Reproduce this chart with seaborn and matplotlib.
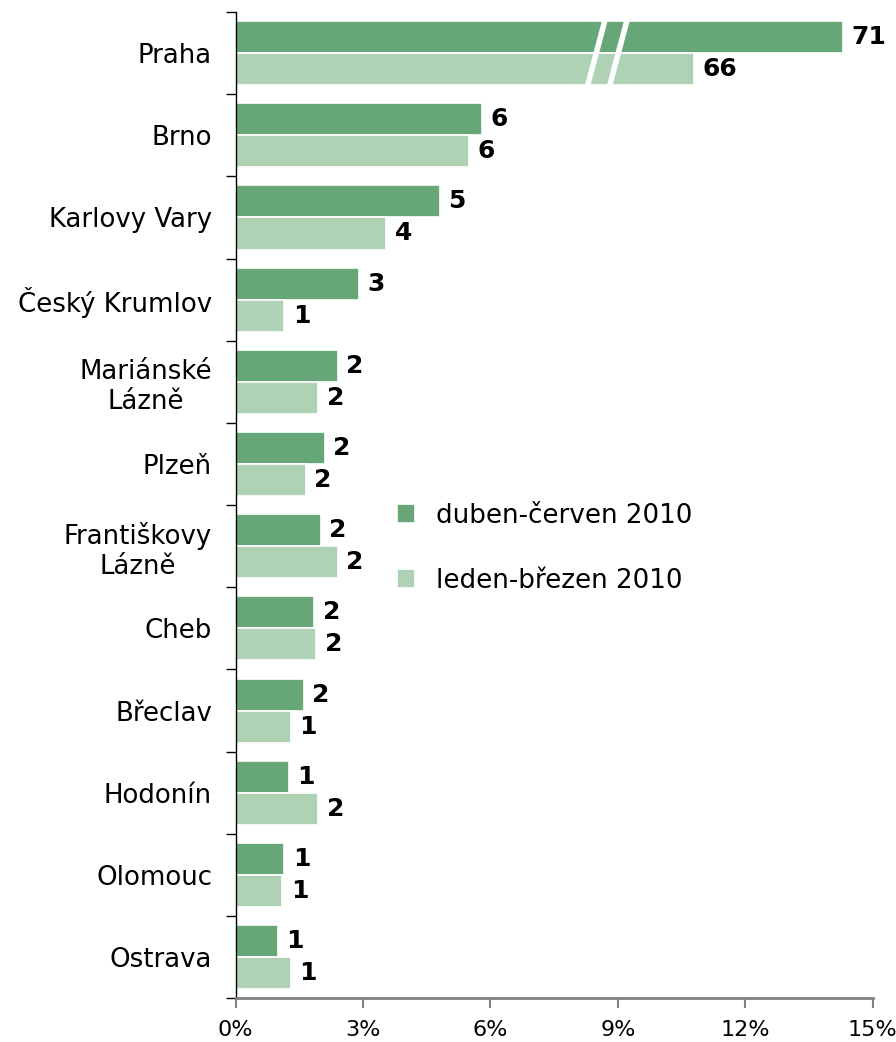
import seaborn as sns
import pandas as pd
import matplotlib.pyplot as plt
from matplotlib.ticker import FuncFormatter, FixedLocator

# data
cities = ["Praha", "Brno", "Karlovy Vary", "Český Krumlov", "Mariánské\nLázně",
          "Plzeň", "Františkovy\nLázně", "Cheb", "Břeclav", "Hodonín",
          "Olomouc", "Ostrava"]
# share in % (Praha q2 bar is drawn cut off at the axis break)
share_q2 = [14.3, 5.8, 4.8, 2.9, 2.4, 2.1, 2.0, 1.85, 1.6, 1.25, 1.15, 1.0]
share_q1 = [10.8, 5.5, 3.55, 1.15, 1.95, 1.65, 2.4, 1.9, 1.3, 1.95, 1.1, 1.3]
labels_q2 = [71, 6, 5, 3, 2, 2, 2, 2, 2, 1, 1, 1]
labels_q1 = [66, 6, 4, 1, 2, 2, 2, 2, 1, 2, 1, 1]
periods = ["duben-červen 2010", "leden-březen 2010"]

dark = "#67a777"
light = "#aed2b3"

df = pd.DataFrame({
    "city": cities * 2,
    "share": share_q2 + share_q1,
    "period": [periods[0]] * len(cities) + [periods[1]] * len(cities),
})

plt.rcParams["font.family"] = "DejaVu Sans"

fig = plt.figure(figsize=(8.96, 10.42), dpi=100)
ax = fig.add_axes([0.263, 0.042, 0.711, 0.9465])

sns.barplot(
    data=df,
    y="city",
    x="share",
    hue="period",
    orient="h",
    palette=[dark, light],
    saturation=1,
    width=0.78,
    edgecolor="white",
    linewidth=1.2,
    ax=ax,
)

ax.set_xlim(0, 15)
ax.set_ylim(len(cities) - 0.5, -0.5)
ax.set_xlabel("")
ax.set_ylabel("")

ax.xaxis.set_major_locator(FixedLocator([0, 3, 6, 9, 12, 15]))
ax.xaxis.set_major_formatter(FuncFormatter(lambda x, pos: f"{int(x)}%"))
ax.tick_params(axis="x", length=7, width=1.5, color="#808080", labelsize=16, pad=9)

ax.yaxis.set_minor_locator(FixedLocator([i - 0.5 for i in range(len(cities) + 1)]))
ax.tick_params(axis="y", which="major", length=0, labelsize=18.7, pad=17)
ax.tick_params(axis="y", which="minor", length=7, width=1, color="black")
for lab in ax.get_yticklabels():
    lab.set_multialignment("center")

sns.despine(ax=ax)
ax.spines["left"].set_linewidth(1)
ax.spines["bottom"].set_color("#808080")
ax.spines["bottom"].set_linewidth(2)

for cont, labs in zip(ax.containers, [labels_q2, labels_q1]):
    ax.bar_label(cont, labels=[str(v) for v in labs], padding=6,
                 fontsize=18, fontweight="bold", color="black")

# axis break marks on the Praha bars
ax.plot([8.29, 8.69], [0.39, -0.39], color="white", lw=4, solid_capstyle="butt")
ax.plot([8.81, 9.21], [0.39, -0.39], color="white", lw=4, solid_capstyle="butt")

ax.legend(
    loc="center left",
    bbox_to_anchor=(0.417, 0.474),
    bbox_transform=fig.transFigure,
    frameon=False,
    fontsize=18.8,
    handlelength=0.7,
    handleheight=0.7,
    handletextpad=0.8,
    labelspacing=1.5,
)

plt.savefig("out.png", dpi=100)
